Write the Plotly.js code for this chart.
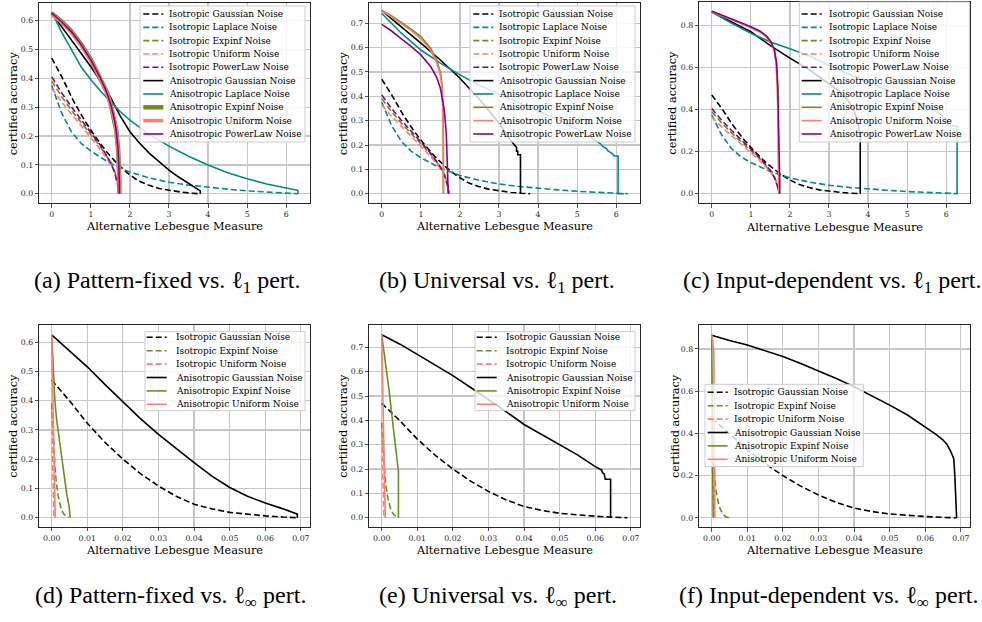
<!DOCTYPE html>
<html><head><meta charset="utf-8">
<script src="https://cdn.plot.ly/plotly-3.0.1.min.js"></script>
<style>html,body{margin:0;padding:0;background:#fff}#chart{width:982px;height:622px}</style>
</head><body><div id="chart"></div>
<script>
// ================= DATA =================
// --- shared isotropic curves, l1 perturbation (top row) ---
const isoGaussX1 = [0,0.275,0.55,0.825,1.1,1.375,1.65,1.925,2.2,2.475,2.75,3.025,3.3,3.575,3.8];
const isoGaussY1 = [0.47,0.40,0.323,0.257,0.2,0.15,0.108,0.073,0.046,0.03,0.018,0.011,0.006,0.002,0.0];
const isoLapX1 = [0,0.25,0.5,0.75,1,1.25,1.5,1.75,2,2.5,3,3.5,4,4.5,5,5.5,6,6.3];
const isoLapY1 = [0.375,0.28,0.215,0.175,0.148,0.125,0.105,0.09,0.075,0.055,0.04,0.03,0.022,0.016,0.01,0.006,0.003,0.0];
const isoSmallX1 = [0,0.25,0.5,0.75,1,1.25,1.5,1.6,1.68,1.72];
const isoExpY1 = [0.39,0.337,0.29,0.247,0.207,0.162,0.11,0.082,0.045,0.0];
const isoUniY1 = [0.365,0.318,0.277,0.236,0.196,0.153,0.103,0.077,0.042,0.0];
const isoPowY1 = [0.405,0.35,0.302,0.258,0.214,0.167,0.11,0.078,0.035,0.0];

// --- (a) pattern-fixed vs l1 ---
const aGaussX = [0,0.25,0.5,0.75,1,1.25,1.5,1.75,2,2.25,2.5,2.75,3,3.25,3.5,3.7,3.8,3.8];
const aGaussY = [0.625,0.58,0.533,0.487,0.44,0.39,0.335,0.27,0.215,0.175,0.14,0.11,0.082,0.058,0.036,0.02,0.01,0.0];
const aLapX = [0,0.25,0.5,0.75,1,1.25,1.5,1.75,2,2.5,3,3.5,4,4.5,5,5.5,6,6.3,6.3];
const aLapY = [0.63,0.56,0.5,0.44,0.395,0.355,0.32,0.285,0.255,0.205,0.165,0.13,0.1,0.073,0.052,0.034,0.02,0.012,0.0];
const aSmallX = [0,0.25,0.5,0.75,1,1.25,1.4,1.5,1.6,1.65,1.7,1.72,1.73,1.73];
const aExpY = [0.625,0.597,0.563,0.518,0.465,0.4,0.355,0.315,0.26,0.22,0.15,0.1,0.04,0.0];
const aUniY = [0.622,0.595,0.56,0.515,0.462,0.398,0.352,0.312,0.257,0.218,0.148,0.1,0.04,0.0];
const aPowY = [0.625,0.596,0.562,0.517,0.464,0.399,0.354,0.314,0.259,0.219,0.149,0.1,0.04,0.0];

// --- (b) universal vs l1 ---
const bGaussX = [0,0.5,1,1.5,2,2.5,3,3.3,3.4,3.45,3.45,3.48,3.48,3.55,3.55];
const bGaussY = [0.752,0.686,0.618,0.549,0.474,0.388,0.29,0.22,0.2,0.19,0.175,0.175,0.16,0.16,0.0];
const bLapX = [0,0.5,1,1.5,2,2.5,3,3.5,4,4.5,5,5.4,5.6,5.65,5.75,5.8,5.9,5.95,6.05,6.05,6.2];
const bLapY = [0.74,0.659,0.59,0.536,0.488,0.445,0.41,0.375,0.34,0.305,0.265,0.225,0.205,0.195,0.185,0.175,0.165,0.155,0.155,0.0,0.0];
const bExpX = [0,0.25,0.5,0.75,1,1.25,1.4,1.5,1.55,1.57,1.58,1.58];
const bExpY = [0.752,0.73,0.703,0.676,0.645,0.597,0.55,0.5,0.44,0.33,0.15,0.0];
const bUniX = [0,0.25,0.5,0.75,1,1.25,1.4,1.48,1.54,1.56,1.57,1.57];
const bUniY = [0.75,0.726,0.698,0.67,0.637,0.588,0.54,0.5,0.44,0.33,0.15,0.0];
const bPowX = [0,0.25,0.5,0.75,1,1.25,1.4,1.5,1.6,1.65,1.68,1.7,1.7];
const bPowY = [0.695,0.668,0.636,0.605,0.57,0.522,0.48,0.433,0.344,0.25,0.11,0.03,0.0];

// --- (c) input-dependent vs l1 ---
const cGaussX = [0,0.5,1,1.5,2,2.5,3,3.25,3.5,3.65,3.75,3.8,3.8];
const cGaussY = [0.865,0.818,0.771,0.705,0.645,0.59,0.525,0.49,0.44,0.39,0.33,0.25,0.0];
const cLapX = [0,0.5,1,1.5,2,2.5,3,3.5,4,4.5,5,5.5,5.8,6,6.05,6.28,6.28];
const cLapY = [0.865,0.812,0.764,0.722,0.69,0.655,0.61,0.57,0.53,0.492,0.455,0.415,0.385,0.355,0.325,0.322,0.0];
const cSmallX = [0,0.25,0.5,0.75,1,1.25,1.4,1.5,1.6,1.65,1.68,1.7,1.72,1.72];
const cExpY = [0.868,0.85,0.83,0.812,0.793,0.77,0.748,0.725,0.685,0.62,0.51,0.3,0.05,0.0];
const cUniY = [0.866,0.848,0.828,0.81,0.79,0.767,0.745,0.722,0.682,0.615,0.5,0.29,0.05,0.0];
const cPowX = [0,0.25,0.5,0.75,1,1.25,1.4,1.5,1.6,1.66,1.69,1.72,1.74,1.74];
const cPowY = [0.868,0.851,0.832,0.814,0.795,0.772,0.75,0.727,0.687,0.62,0.51,0.3,0.05,0.0];

// --- shared isotropic curves, l_inf perturbation (bottom row) ---
const isoGaussXInf = [0,0.005,0.01,0.015,0.02,0.025,0.03,0.035,0.04,0.045,0.05,0.055,0.06,0.065,0.069];
const isoGaussYInf = [0.47,0.4,0.323,0.257,0.2,0.15,0.108,0.073,0.046,0.03,0.018,0.011,0.006,0.002,0.0];
const isoExpXInf = [0,0.0003,0.0006,0.0009,0.0013,0.0018,0.0025,0.0032,0.004,0.0048];
const isoExpYInf = [0.39,0.31,0.235,0.175,0.12,0.075,0.037,0.016,0.005,0.0];
const isoUniXInf = [0,0.0001,0.0002,0.0003,0.0004,0.0006];
const isoUniYInf = [0.365,0.28,0.18,0.1,0.04,0.0];

// --- (d) pattern-fixed vs l_inf ---
const dGaussX = [0,0.005,0.01,0.015,0.02,0.025,0.03,0.035,0.04,0.045,0.05,0.055,0.06,0.065,0.069,0.069];
const dGaussY = [0.625,0.572,0.516,0.455,0.395,0.338,0.285,0.235,0.188,0.142,0.103,0.073,0.05,0.03,0.012,0.0];
const dExpX = [0,0.0004,0.0009,0.0014,0.0022,0.0028,0.0037,0.0042,0.0049,0.0052];
const dExpY = [0.625,0.5,0.4,0.334,0.266,0.197,0.129,0.083,0.038,0.0];
const dUniX = [0,0.0002,0.0004,0.0006,0.0008,0.001];
const dUniY = [0.625,0.52,0.4,0.27,0.13,0.0];

// --- (e) universal vs l_inf ---
const eGaussX = [0,0.005,0.01,0.015,0.02,0.025,0.03,0.035,0.04,0.045,0.05,0.055,0.06,0.0618,0.062,0.0625,0.0628,0.0643,0.0643];
const eGaussY = [0.752,0.714,0.671,0.628,0.584,0.535,0.486,0.435,0.383,0.342,0.299,0.258,0.21,0.196,0.185,0.18,0.158,0.158,0.0];
const eExpX = [0,0.0007,0.0014,0.0021,0.0028,0.0035,0.0042,0.0047,0.0047];
const eExpY = [0.752,0.68,0.607,0.52,0.429,0.34,0.25,0.19,0.0];
const eUniX = [0,0.0002,0.0004,0.0006,0.0008,0.001];
const eUniY = [0.752,0.62,0.48,0.33,0.16,0.0];

// --- (f) input-dependent vs l_inf ---
const fGaussX = [0,0.005,0.01,0.015,0.02,0.025,0.03,0.035,0.04,0.045,0.05,0.055,0.06,0.063,0.065,0.066,0.067,0.0675,0.068,0.0683,0.0686,0.0688,0.0688];
const fGaussY = [0.865,0.84,0.819,0.793,0.764,0.731,0.697,0.66,0.621,0.578,0.534,0.487,0.432,0.395,0.368,0.35,0.32,0.3,0.28,0.2,0.08,0.01,0.0];
const fExpX = [0,0.0001,0.0002,0.0003,0.0004];
const fExpY = [0.865,0.75,0.5,0.2,0.0];
const fUniX = [0,0.0003,0.0006,0.0007,0.0008,0.0009];
const fUniY = [0.865,0.84,0.78,0.5,0.1,0.0];

// --- labels ---
const seriesNames = ["Isotropic Gaussian Noise","Isotropic Laplace Noise","Isotropic Expinf Noise","Isotropic Uniform Noise","Isotropic PowerLaw Noise","Anisotropic Gaussian Noise","Anisotropic Laplace Noise","Anisotropic Expinf Noise","Anisotropic Uniform Noise","Anisotropic PowerLaw Noise"];
const captions = ["(a) Pattern-fixed vs. ℓ<sub>1</sub> pert.","(b) Universal vs. ℓ<sub>1</sub> pert.","(c) Input-dependent vs. ℓ<sub>1</sub> pert.","(d) Pattern-fixed vs. ℓ<sub>∞</sub> pert.","(e) Universal vs. ℓ<sub>∞</sub> pert.","(f) Input-dependent vs. ℓ<sub>∞</sub> pert."];
const xTitle = "Alternative Lebesgue Measure";
const yTitle = "certified accuracy";

// ================= STYLE =================
const C = {gauss:'#000000', lap:'#008b8b', exp:'#6b8e23', uni:'#fa8072', pow:'#8b008b'};
const DASH = '6px,3px';
const W = 1.6;
const W_ = 982, H_ = 622;
const px = v => v / W_;
const py = v => 1 - v / H_;
const SERIF = 'DejaVu Serif, Liberation Serif, serif';

const traces = [];
function tr(x, y, ax, color, width, dash) {
  traces.push({type:'scatter', mode:'lines', x:x, y:y, xaxis:'x'+ax, yaxis:'y'+ax,
    line:{color:color, width:width, dash:dash||'solid'}, showlegend:false, hoverinfo:'skip'});
}
const topAniso = {
  1: [[aGaussX,aGaussY],[aLapX,aLapY],[aSmallX,aExpY],[aSmallX,aUniY],[aSmallX,aPowY]],
  2: [[bGaussX,bGaussY],[bLapX,bLapY],[bExpX,bExpY],[bUniX,bUniY],[bPowX,bPowY]],
  3: [[cGaussX,cGaussY],[cLapX,cLapY],[cSmallX,cExpY],[cSmallX,cUniY],[cPowX,cPowY]]
};
[1,2,3].forEach(ax => {
  const axs = ax === 1 ? '' : String(ax);
  tr(isoGaussX1, isoGaussY1, axs, C.gauss, W, DASH);
  tr(isoLapX1, isoLapY1, axs, C.lap, W, DASH);
  tr(isoSmallX1, isoExpY1, axs, C.exp, W, DASH);
  tr(isoSmallX1, isoUniY1, axs, C.uni, W, DASH);
  tr(isoSmallX1, isoPowY1, axs, C.pow, W, DASH);
  const a = topAniso[ax];
  const wExp = ax === 1 ? 4.5 : W, wUni = ax === 1 ? 3.5 : W;
  tr(a[0][0], a[0][1], axs, C.gauss, W);
  tr(a[1][0], a[1][1], axs, C.lap, W);
  tr(a[2][0], a[2][1], axs, C.exp, wExp);
  tr(a[3][0], a[3][1], axs, C.uni, wUni);
  tr(a[4][0], a[4][1], axs, C.pow, W);
});
const botAniso = {
  4: [[dGaussX,dGaussY],[dExpX,dExpY],[dUniX,dUniY]],
  5: [[eGaussX,eGaussY],[eExpX,eExpY],[eUniX,eUniY]],
  6: [[fGaussX,fGaussY],[fExpX,fExpY],[fUniX,fUniY]]
};
[4,5,6].forEach(ax => {
  const axs = String(ax);
  tr(isoGaussXInf, isoGaussYInf, axs, C.gauss, W, DASH);
  tr(isoExpXInf, isoExpYInf, axs, C.exp, W, DASH);
  tr(isoUniXInf, isoUniYInf, axs, C.uni, W, DASH);
  const a = botAniso[ax];
  tr(a[0][0], a[0][1], axs, C.gauss, W);
  tr(a[1][0], a[1][1], axs, C.exp, W);
  tr(a[2][0], a[2][1], axs, C.uni, W);
});

// ================= LAYOUT =================
const tickFont = {family:SERIF, size:7.8, color:'#262626'};
function xa(domain, range, dtick, fmt) {
  return {domain:domain, range:range, dtick:dtick, tick0:0, tickformat:fmt,
    showgrid:true, gridcolor:'#c6c6c6', gridwidth:1.2, zeroline:false,
    showline:true, mirror:true, linecolor:'#262626', linewidth:1,
    ticks:'outside', ticklen:3.5, tickwidth:0.8, tickcolor:'#262626',
    tickfont:tickFont, fixedrange:true};
}
const xdA = [39.3/W_, 310/W_], xdB = [369.3/W_, 640/W_], xdC = [699.3/W_, 970/W_];
const ydTopAB = [py(203), py(3)], ydTopC = [py(203.3), py(1.7)];
const ydBotDE = [py(526.7), py(324.7)], ydBotF = [py(527.3), py(324.7)];
const xr1 = [-0.32, 6.61], xrInf = [-0.00348, 0.07256];

const layout = {
  width:W_, height:H_, margin:{l:0,r:0,t:0,b:0}, paper_bgcolor:'#ffffff', plot_bgcolor:'#ffffff',
  showlegend:false, hovermode:false,
  xaxis: Object.assign(xa(xdA, xr1, 1, '.0f'), {anchor:'y'}),
  yaxis: Object.assign(xa(ydTopAB, [-0.032,0.661], 0.1, '.1f'), {anchor:'x'}),
  xaxis2: Object.assign(xa(xdB, xr1, 1, '.0f'), {anchor:'y2'}),
  yaxis2: Object.assign(xa(ydTopAB, [-0.038,0.783], 0.1, '.1f'), {anchor:'x2'}),
  xaxis3: Object.assign(xa(xdC, xr1, 1, '.0f'), {anchor:'y3'}),
  yaxis3: Object.assign(xa(ydTopC, [-0.046,0.914], 0.2, '.1f'), {anchor:'x3'}),
  xaxis4: Object.assign(xa(xdA, xrInf, 0.01, '.2f'), {anchor:'y4'}),
  yaxis4: Object.assign(xa(ydBotDE, [-0.031,0.66], 0.1, '.1f'), {anchor:'x4'}),
  xaxis5: Object.assign(xa(xdB, xrInf, 0.01, '.2f'), {anchor:'y5'}),
  yaxis5: Object.assign(xa(ydBotDE, [-0.037,0.793], 0.1, '.1f'), {anchor:'x5'}),
  xaxis6: Object.assign(xa(xdC, xrInf, 0.01, '.2f'), {anchor:'y6'}),
  yaxis6: Object.assign(xa(ydBotF, [-0.045,0.915], 0.2, '.1f'), {anchor:'x6'}),
  shapes:[], annotations:[]
};

// axis titles
const titleFont = {family:SERIF, size:11.3, color:'#000'};
[[174.7,226.5],[504.7,226.5],[834.7,227],[174.7,550],[504.7,550],[834.7,550.5]].forEach(p => {
  layout.annotations.push({text:xTitle, xref:'paper', yref:'paper', x:px(p[0]), y:py(p[1]),
    xanchor:'center', yanchor:'middle', showarrow:false, font:titleFont});
});
[[13.3,103],[343.3,103],[671.7,103],[14,425.7],[344,425.7],[675,426]].forEach(p => {
  layout.annotations.push({text:yTitle, xref:'paper', yref:'paper', x:px(p[0]), y:py(p[1]),
    xanchor:'center', yanchor:'middle', textangle:-90, showarrow:false, font:titleFont});
});
// captions
const capFont = {family:'Liberation Serif, Times New Roman, serif', size:24, color:'#000'};
[[167,282],[497,282],[832,282],[170,597],[498,597],[828,597]].forEach((p,i) => {
  layout.annotations.push({text:captions[i], xref:'paper', yref:'paper', x:px(p[0]), y:py(p[1]),
    xanchor:'center', yanchor:'middle', showarrow:false, font:capFont});
});

// manual legends (matplotlib style)
function legend(box, lineX0, textX, rowY0, dy, entries) {
  layout.shapes.push({type:'rect', xref:'paper', yref:'paper', layer:'above',
    x0:px(box[0]), x1:px(box[2]), y0:py(box[3]), y1:py(box[1]),
    fillcolor:'rgba(255,255,255,0.8)', line:{color:'#cccccc', width:1}});
  entries.forEach((e, i) => {
    const y = rowY0 + i*dy;
    layout.shapes.push({type:'line', xref:'paper', yref:'paper', layer:'above',
      x0:px(lineX0), x1:px(lineX0+20), y0:py(y), y1:py(y),
      line:{color:e.c, width:e.w, dash:e.d||'solid'}});
    layout.annotations.push({text:e.n, xref:'paper', yref:'paper', x:px(textX), y:py(y),
      xanchor:'left', yanchor:'middle', showarrow:false, borderpad:0,
      font:{family:SERIF, size:9, color:'#000'}});
  });
}
const colsTop = [C.gauss,C.lap,C.exp,C.uni,C.pow,C.gauss,C.lap,C.exp,C.uni,C.pow];
function topEntries(thick) {
  return seriesNames.map((n,i) => ({n:n, c:colsTop[i], d:i<5?DASH:'solid',
    w: thick && i===7 ? 4.5 : thick && i===8 ? 3.5 : W}));
}
const botIdx = [0,2,3,5,7,8];
function botEntries() {
  return botIdx.map(i => ({n:seriesNames[i], c:colsTop[i], d:i<5?DASH:'solid', w:W}));
}
legend([140,6,305,142], 143.3, 168.3, 14, 13.33, topEntries(true));
legend([470,6,635,142], 473.3, 498.3, 14, 13.33, topEntries(false));
legend([799.3,2,969.3,142], 801.7, 828.3, 14, 13.33, topEntries(false));
legend([145,331.7,305,410.7], 146.7, 175, 337.3, 13.4, botEntries());
legend([475,331.7,635,410.7], 476.7, 505, 337.3, 13.4, botEntries());
legend([705,384.3,863.3,466.7], 707.7, 733.3, 392.3, 13.4, botEntries());

Plotly.newPlot('chart', traces, layout, {staticPlot:true, displayModeBar:false});
</script>
</body></html>
